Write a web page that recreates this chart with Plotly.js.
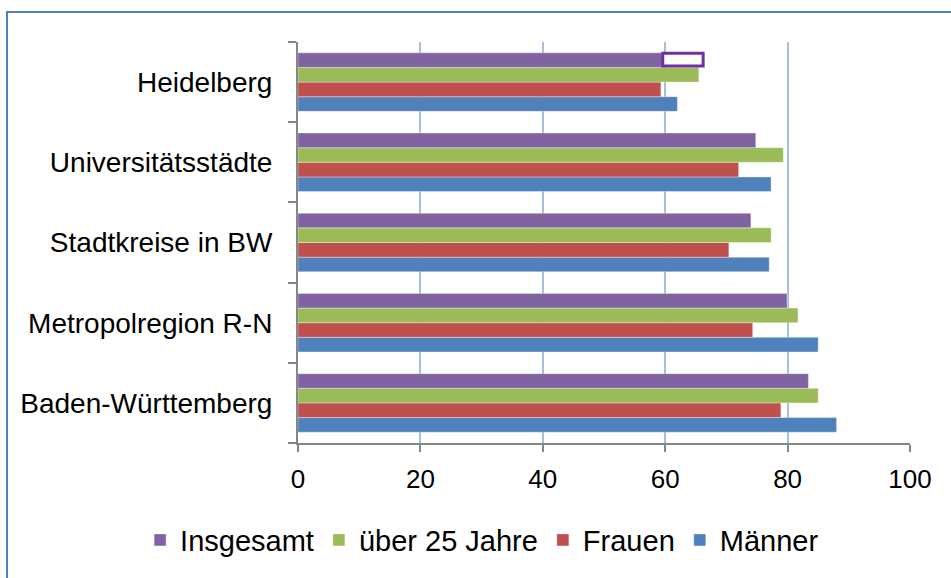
<!DOCTYPE html>
<html>
<head>
<meta charset="utf-8">
<script src="https://cdn.plot.ly/plotly-3.0.1.min.js"></script>
<style>
  html, body { margin: 0; padding: 0; background: #fff; overflow: hidden; }
  #chart { width: 951px; height: 578px; position: absolute; left: 0; top: 0; }
  #frame { position: absolute; left: 6px; top: 11px; width: 1000px; height: 700px;
           border: 2px solid #4F81BD; pointer-events: none; }
</style>
</head>
<body>
<div id="chart"></div>
<div id="frame"></div>
<script>
// Categories (bottom to top)
const categories = ["Baden-Württemberg", "Metropolregion R-N", "Stadtkreise in BW", "Universitätsstädte", "Heidelberg"];
// Series values
const maenner    = [88.0, 85.0, 77.0, 77.3, 62.0];
const frauen     = [78.9, 74.3, 70.4, 72.0, 59.3];
const ueber25    = [85.0, 81.7, 77.3, 79.3, 65.5];
const insgesamt  = [83.4, 79.9, 74.0, 74.8, 59.8];
const seriesNames = ["Männer", "Frauen", "über 25 Jahre", "Insgesamt"];
const xTicks = [0, 20, 40, 60, 80, 100];
// Highlight box on Heidelberg / Insgesamt
const highlightX = [59.6, 66.2];

const colors = ["#4F81BD", "#C0504D", "#9BBB59", "#8064A2"];
const seriesData = [maenner, frauen, ueber25, insgesamt];
const FONT = "'Liberation Sans', Arial, sans-serif";

const traces = seriesData.map((vals, i) => ({
  type: "bar",
  orientation: "h",
  name: seriesNames[i],
  x: vals,
  y: categories,
  marker: { color: colors[i], line: { color: "rgba(255,255,255,0.6)", width: 0.6 } },
  hoverinfo: "x+name"
}));

const layout = {
  width: 951,
  height: 578,
  margin: { l: 298, r: 41, t: 42, b: 131 },
  paper_bgcolor: "#ffffff",
  plot_bgcolor: "#ffffff",
  barmode: "group",
  bargap: 0.27,
  bargroupgap: 0,
  showlegend: true,
  legend: {
    orientation: "h",
    traceorder: "reversed",
    x: -0.258, xanchor: "left",
    y: -0.242, yanchor: "middle",
    font: { family: FONT, size: 29, color: "#000" },
    itemwidth: 30,
    tracegroupgap: 0
  },
  font: { family: FONT, color: "#000" },
  xaxis: {
    range: [0, 100],
    tickvals: xTicks,
    ticktext: xTicks.map(String),
    showgrid: true,
    gridcolor: "#A7BFDE",
    gridwidth: 2,
    zeroline: false,
    showline: true,
    linecolor: "#868686",
    linewidth: 2,
    ticks: "outside",
    ticklen: 7,
    tickwidth: 2,
    tickcolor: "#868686",
    ticklabelstandoff: 5,
    tickfont: { family: FONT, size: 26, color: "#000" },
    fixedrange: true
  },
  yaxis: {
    type: "category",
    categoryorder: "array",
    categoryarray: categories,
    showgrid: false,
    zeroline: false,
    showline: true,
    linecolor: "#868686",
    linewidth: 2,
    ticks: "outside",
    tickson: "boundaries",
    ticklen: 8,
    tickwidth: 2,
    tickcolor: "#868686",
    ticklabelstandoff: 18,
    tickfont: { family: FONT, size: 28, color: "#000" },
    fixedrange: true
  },
  shapes: [{
    type: "rect",
    xref: "x", yref: "y",
    x0: highlightX[0], x1: highlightX[1],
    y0: 4.2, y1: 4.36,
    line: { color: "#7030A0", width: 3 },
    fillcolor: "#ffffff",
    layer: "above"
  }]
};

Plotly.newPlot("chart", traces, layout, { displayModeBar: false, staticPlot: true });
</script>
</body>
</html>
